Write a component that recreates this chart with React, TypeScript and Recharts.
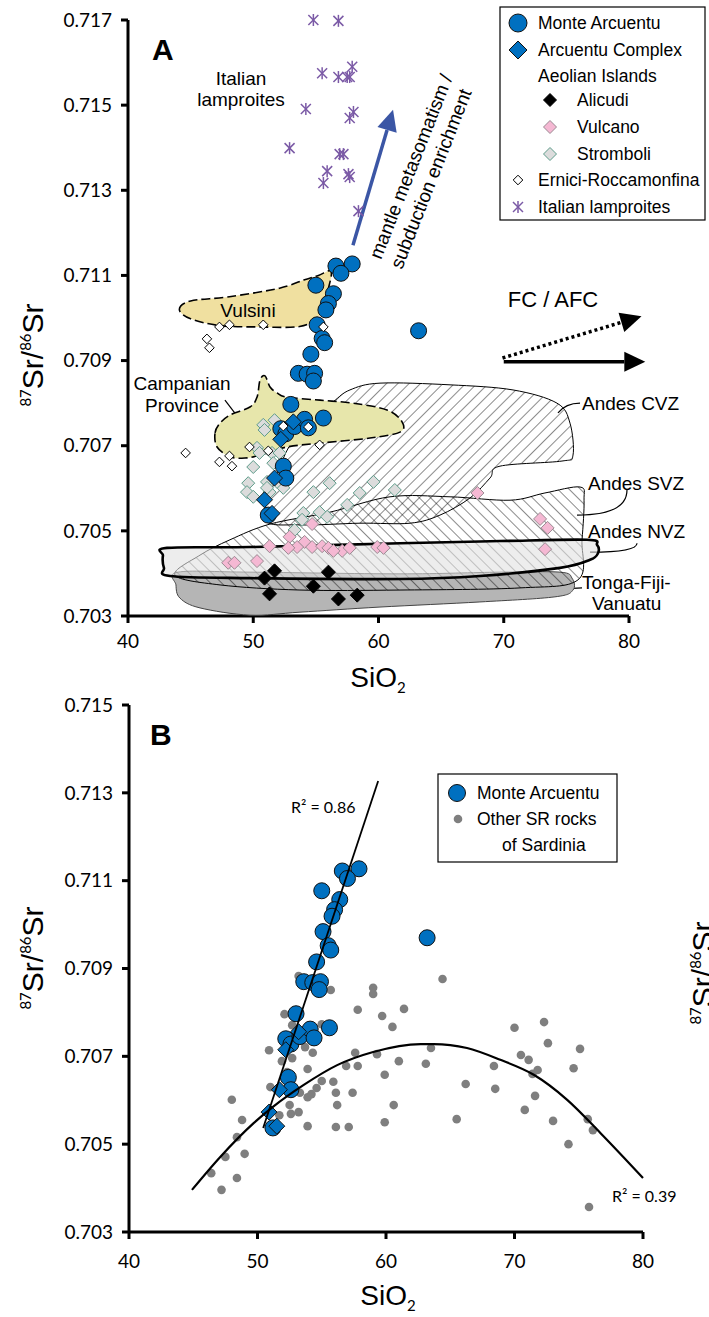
import React from "react";
import { ScatterChart, Scatter, XAxis, YAxis, ReferenceLine } from "recharts";

type Pt = { x: number; y: number };
const p = (x: number, y: number): Pt => ({ x, y });

// ---------- shared axis values ----------
const xTicks = [40, 50, 60, 70, 80];
const yTicksA = [0.703, 0.705, 0.707, 0.709, 0.711, 0.713, 0.715, 0.717];
const yTicksB = [0.703, 0.705, 0.707, 0.709, 0.711, 0.713, 0.715];

// ---------- samples (SiO2, 87Sr/86Sr) ----------
const monteArcuentu: Pt[] = [
  p(57.9, 0.71127), p(56.6, 0.71122), p(57.0, 0.71105), p(55.0, 0.71077),
  p(56.4, 0.71057), p(56.0, 0.71034), p(55.8, 0.71019), p(55.1, 0.70984),
  p(55.5, 0.70952), p(55.7, 0.70942), p(54.6, 0.70915), p(53.6, 0.7087),
  p(54.3, 0.70868), p(54.9, 0.7087), p(54.8, 0.70852), p(53.0, 0.70797),
  p(52.2, 0.7074), p(52.6, 0.70728), p(53.3, 0.70745), p(54.1, 0.70762),
  p(54.4, 0.70742), p(55.6, 0.70765), p(52.4, 0.70652), p(52.6, 0.70624),
  p(51.2, 0.70537), p(63.2, 0.7097),
];

const arcuentuComplex: Pt[] = [
  p(53.2, 0.70756), p(52.2, 0.70715), p(51.7, 0.70624), p(50.9, 0.70573), p(51.5, 0.70541),
];

const alicudi: Pt[] = [
  p(51.7, 0.70406), p(50.9, 0.70389), p(56.0, 0.70403), p(54.8, 0.7037),
  p(51.3, 0.70352), p(56.8, 0.7034), p(58.3, 0.70349),
];

const vulcano: Pt[] = [
  p(54.7, 0.70516), p(52.9, 0.70486), p(54.1, 0.70474), p(53.5, 0.70462),
  p(51.3, 0.70464), p(52.8, 0.7046), p(54.7, 0.70462), p(55.5, 0.70464),
  p(56.0, 0.7046), p(57.1, 0.70453), p(57.7, 0.7046), p(56.4, 0.70453),
  p(59.9, 0.70462), p(60.4, 0.7046), p(50.3, 0.70429), p(48.0, 0.70425),
  p(48.5, 0.70425), p(67.9, 0.70589), p(72.9, 0.70528), p(73.5, 0.70507),
  p(73.3, 0.70457),
];

const stromboli: Pt[] = [
  p(50.8, 0.70749), p(51.7, 0.7076), p(50.9, 0.70737), p(50.3, 0.70695),
  p(50.5, 0.70683), p(51.5, 0.70683), p(52.1, 0.70683), p(50.0, 0.7065),
  p(51.6, 0.70659), p(49.6, 0.70612), p(49.5, 0.70591), p(50.0, 0.7058),
  p(51.1, 0.70615), p(51.3, 0.70591), p(52.4, 0.70601), p(51.1, 0.70601),
  p(51.9, 0.70615), p(56.1, 0.70612), p(54.8, 0.70591), p(59.6, 0.70615),
  p(58.5, 0.70589), p(57.5, 0.70561), p(54.0, 0.70542), p(55.3, 0.70544),
  p(55.9, 0.70533), p(53.9, 0.70526), p(53.3, 0.70502), p(61.3, 0.70596),
];

const erniciRoccamonfina: Pt[] = [
  p(47.3, 0.70979), p(48.1, 0.70984), p(50.8, 0.70984), p(46.3, 0.70951),
  p(46.5, 0.7093), p(55.6, 0.70979), p(52.4, 0.70746), p(54.4, 0.70744),
  p(44.6, 0.70683), p(49.7, 0.70697), p(51.2, 0.70688), p(48.1, 0.70676),
  p(47.3, 0.70662), p(48.3, 0.70652), p(55.3, 0.70702),
];

const italianLamproites: Pt[] = [
  p(54.8, 0.717), p(56.8, 0.71698), p(57.9, 0.7159), p(55.5, 0.71575),
  p(56.8, 0.71566), p(57.5, 0.71566), p(57.7, 0.71566), p(54.2, 0.71491),
  p(58.0, 0.71484), p(57.7, 0.7147), p(52.9, 0.71399), p(56.9, 0.71385),
  p(57.2, 0.71385), p(55.9, 0.71345), p(57.6, 0.71338), p(57.7, 0.71331),
  p(55.6, 0.71317), p(58.4, 0.71251),
];

const sardiniaOther: Pt[] = [
  p(53.2, 0.70883), p(55.7, 0.70851), p(59.0, 0.70856), p(59.0, 0.70842),
  p(57.8, 0.70806), p(61.4, 0.70808), p(59.7, 0.70792), p(60.5, 0.70767),
  p(52.1, 0.70796), p(52.7, 0.70771), p(55.0, 0.70773), p(50.9, 0.70714),
  p(53.7, 0.70721), p(54.3, 0.70708), p(51.9, 0.70689), p(52.7, 0.70696),
  p(57.6, 0.70708), p(59.3, 0.70705), p(61.0, 0.70689), p(56.9, 0.70678),
  p(57.8, 0.70678), p(53.9, 0.70671), p(52.3, 0.70664), p(59.9, 0.70658),
  p(51.0, 0.7063), p(55.0, 0.70644), p(55.9, 0.70642), p(54.6, 0.70628),
  p(53.3, 0.70617), p(53.9, 0.70607), p(54.2, 0.70614), p(56.1, 0.70617),
  p(57.4, 0.70617), p(48.0, 0.70601), p(52.5, 0.70589), p(56.2, 0.70589),
  p(60.6, 0.70589), p(51.7, 0.70566), p(52.6, 0.70569), p(53.2, 0.70573),
  p(48.8, 0.70555), p(53.9, 0.70541), p(56.1, 0.70539), p(57.1, 0.70539),
  p(59.9, 0.7055), p(48.4, 0.70516), p(49.0, 0.70478), p(47.5, 0.70471),
  p(46.4, 0.70434), p(48.4, 0.70423), p(47.2, 0.70396), p(64.4, 0.70876),
  p(70.0, 0.70765), p(72.3, 0.70778), p(72.6, 0.7073), p(75.1, 0.70717),
  p(63.5, 0.70719), p(63.1, 0.70683), p(68.4, 0.70678), p(70.5, 0.70703),
  p(71.1, 0.70692), p(71.8, 0.70669), p(71.4, 0.7066), p(74.6, 0.70673),
  p(66.2, 0.70637), p(68.5, 0.70626), p(71.6, 0.7061), p(70.8, 0.70578),
  p(65.5, 0.70557), p(73.0, 0.70553), p(75.7, 0.70557), p(76.1, 0.70532),
  p(74.2, 0.705), p(75.8, 0.70357),
];

// ---------- outlined fields (panel A) ----------
const vulsiniField: Pt[] = [
  p(44.1, 0.7102), p(45.0, 0.7104), p(48.1, 0.7105), p(52.1, 0.7107),
  p(54.1, 0.7109), p(55.2, 0.711), p(56.2, 0.7111), p(56.0, 0.7107),
  p(55.5, 0.7103), p(55.1, 0.71), p(53.7, 0.7098), p(50.5, 0.70979),
  p(47.4, 0.70982), p(45.0, 0.70998),
];

const campanianField: Pt[] = [
  p(46.95, 0.7073), p(47.35, 0.70753), p(48.14, 0.70772), p(49.74, 0.70791),
  p(50.3, 0.70814), p(50.54, 0.70854), p(50.94, 0.70864), p(51.34, 0.70838),
  p(51.9, 0.70824), p(52.69, 0.70814), p(55.33, 0.70807), p(57.96, 0.708),
  p(60.68, 0.70784), p(61.88, 0.70756), p(61.72, 0.70732), p(59.32, 0.70718),
  p(55.33, 0.70706), p(52.69, 0.70697), p(50.54, 0.70678), p(49.34, 0.70671),
  p(48.14, 0.70674), p(47.11, 0.70697),
];

const andesCVZ: Pt[] = [
  p(50.94, 0.70526), p(51.74, 0.70619), p(52.93, 0.70702), p(54.53, 0.7076),
  p(56.37, 0.70803), p(57.72, 0.70831), p(60.12, 0.70847), p(65.71, 0.70843),
  p(70.74, 0.70831), p(74.25, 0.708), p(75.29, 0.70753), p(75.53, 0.70678),
  p(74.65, 0.70664), p(69.7, 0.70652), p(68.9, 0.70624), p(67.3, 0.70577),
  p(64.91, 0.70537), p(62.52, 0.70518), p(58.52, 0.70518), p(53.73, 0.70514),
];

const andesSVZ: Pt[] = [
  p(43.75, 0.70396), p(45.75, 0.70443), p(48.14, 0.70479), p(51.34, 0.70516),
  p(56.13, 0.70544), p(60.92, 0.7058), p(65.71, 0.7058), p(70.5, 0.70572),
  p(73.29, 0.70589), p(76.09, 0.70603), p(76.41, 0.70572), p(76.25, 0.70479),
  p(75.93, 0.70385), p(71.3, 0.70366), p(61.72, 0.70361), p(53.73, 0.70361),
  p(47.35, 0.70373),
];

const andesNVZ: Pt[] = [
  p(43.11, 0.7046), p(49.74, 0.70462), p(61.72, 0.70471), p(69.7, 0.70476),
  p(76.65, 0.70479), p(77.45, 0.70467), p(77.53, 0.70448), p(76.89, 0.70432),
  p(74.49, 0.70413), p(68.1, 0.70394), p(61.72, 0.70387), p(49.74, 0.70389),
  p(43.35, 0.70394), p(42.87, 0.70413), p(42.79, 0.70442),
];

const tongaFijiVanuatu: Pt[] = [
  p(43.99, 0.70403), p(49.74, 0.70403), p(61.72, 0.70399), p(69.7, 0.70403),
  p(74.49, 0.70403), p(75.45, 0.70389), p(75.53, 0.70361), p(74.09, 0.70345),
  p(68.1, 0.70333), p(60.12, 0.70321), p(53.73, 0.70309), p(49.74, 0.70302),
  p(45.75, 0.70319), p(44.15, 0.70342), p(43.83, 0.70373),
];

// ---------- arrows and leader lines (panel A) ----------
const mantleArrow: Pt[] = [p(57.96, 0.71171), p(61.16, 0.71489)];
const fcArrowDotted: Pt[] = [p(69.9, 0.70906), p(81.0, 0.71004)];
const fcArrowSolid: Pt[] = [p(70.0, 0.70897), p(81.3, 0.70897)];
const leaderLines: { seg: Pt[]; bend: "h" | "v" | "none" }[] = [
  { seg: [p(47.74, 0.70807), p(48.78, 0.70767)], bend: "none" },
  { seg: [p(74.33, 0.70777), p(76.09, 0.708)], bend: "v" },
  { seg: [p(75.85, 0.70537), p(79.84, 0.70596)], bend: "h" },
  { seg: [p(76.89, 0.7045), p(80.64, 0.70471)], bend: "h" },
  { seg: [p(72.89, 0.70361), p(76.25, 0.70366)], bend: "none" },
];

// ---------- fits (panel B) ----------
const linearFit: Pt[] = [p(50.44, 0.70537), p(59.39, 0.71327)];
const quadraticFit: Pt[] = [
  p(44.9, 0.70396), p(47.1, 0.70471), p(49.7, 0.70548), p(51.2, 0.70585),
  p(53.6, 0.70635), p(56.2, 0.7068), p(59.0, 0.7071), p(62.7, 0.70728),
  p(63.7, 0.70728), p(66.3, 0.70719), p(68.9, 0.70692), p(71.5, 0.70658),
  p(74.1, 0.70601), p(76.7, 0.70525), p(80.0, 0.70423),
];

// ---------- drawing helpers ----------
const BLUE = "#0070c0";
const SANS = "'Liberation Sans', Arial, sans-serif";
const NUM = "Lato, sans-serif";

const hidden = () => <g />;

const closedCurve = (pts: { x: number; y: number }[]) => {
  const n = pts.length;
  let d = `M${pts[0].x},${pts[0].y}`;
  for (let i = 0; i < n; i++) {
    const p0 = pts[(i - 1 + n) % n];
    const p1 = pts[i];
    const p2 = pts[(i + 1) % n];
    const p3 = pts[(i + 2) % n];
    const c1x = p1.x + (p2.x - p0.x) / 6;
    const c1y = p1.y + (p2.y - p0.y) / 6;
    const c2x = p2.x - (p3.x - p1.x) / 6;
    const c2y = p2.y - (p3.y - p1.y) / 6;
    d += ` C${c1x},${c1y} ${c2x},${c2y} ${p2.x},${p2.y}`;
  }
  return d + "Z";
};

const fieldPath = (style: any) => (lp: any) => <path d={closedCurve(lp.points)} {...style} />;

const circle = (r: number) => (s: any) => (
  <circle cx={s.cx} cy={s.cy} r={r} fill={BLUE} stroke="#111" strokeWidth={1} />
);

const diamond = (h: number, fill: string, stroke: string, sw = 1) => (s: any) => (
  <polygon
    points={`${s.cx},${s.cy - h} ${s.cx + h},${s.cy} ${s.cx},${s.cy + h} ${s.cx - h},${s.cy}`}
    fill={fill}
    stroke={stroke}
    strokeWidth={sw}
  />
);

const star = (s: any) => {
  const r = 5;
  return (
    <g stroke="#7b5aa6" strokeWidth={1.5}>
      <line x1={s.cx - r} y1={s.cy - r} x2={s.cx + r} y2={s.cy + r} />
      <line x1={s.cx - r} y1={s.cy + r} x2={s.cx + r} y2={s.cy - r} />
      <line x1={s.cx} y1={s.cy - r - 1} x2={s.cx} y2={s.cy + r + 1} />
    </g>
  );
};

const grayDot = (s: any) => <circle cx={s.cx} cy={s.cy} r={4.3} fill="#7f7f7f" />;

const arrow = (color: string, width: number, dash?: string) => (lp: any) => {
  const { x1, y1, x2, y2 } = lp;
  const a = Math.atan2(y2 - y1, x2 - x1);
  const L = 21;
  const W = 10;
  const bx = x2 - L * Math.cos(a);
  const by = y2 - L * Math.sin(a);
  const nx = -Math.sin(a) * W;
  const ny = Math.cos(a) * W;
  return (
    <g>
      <line x1={x1} y1={y1} x2={bx} y2={by} stroke={color} strokeWidth={width} strokeDasharray={dash} />
      <polygon points={`${x2},${y2} ${bx + nx},${by + ny} ${bx - nx},${by - ny}`} fill={color} />
    </g>
  );
};

const leader = (bend: "h" | "v" | "none") => (lp: any) => {
  const { x1, y1, x2, y2 } = lp;
  const d =
    bend === "h"
      ? `M${x1},${y1} Q${x2},${y1} ${x2},${y2}`
      : bend === "v"
      ? `M${x1},${y1} Q${x1 + (x2 - x1) * 0.35},${y2} ${x2},${y2}`
      : `M${x1},${y1} L${x2},${y2}`;
  return <path d={d} fill="none" stroke="#000" strokeWidth={1.2} />;
};

const axisStroke = { stroke: "#000", strokeWidth: 3 };
const tickFont = { fill: "#000", fontSize: 19, fontFamily: NUM };

const SrLabel = ({ x, y }: { x: number; y: number }) => (
  <text transform={`translate(${x},${y}) rotate(-90)`} textAnchor="middle" fontFamily={SANS} fontSize={30} fill="#000">
    <tspan fontSize={15} fontFamily={NUM} dy={-12}>87</tspan>
    <tspan dy={12}>Sr/</tspan>
    <tspan fontSize={15} fontFamily={NUM} dy={-12}>86</tspan>
    <tspan dy={12}>Sr</tspan>
  </text>
);

const SiO2 = ({ x, y }: { x: number; y: number }) => (
  <text x={x} y={y} textAnchor="middle" fontFamily={SANS} fontSize={28} fill="#000">
    SiO<tspan fontSize={15} fontFamily={NUM} dy={6}>2</tspan>
  </text>
);

function PanelA() {
  return (
    <ScatterChart width={709} height={690} margin={{ top: 20, right: 80, bottom: 0, left: 0 }}>
      <XAxis type="number" dataKey="x" domain={[40, 80]} ticks={xTicks} interval={0} height={74}
        axisLine={axisStroke} tickLine={axisStroke} tickSize={7} tickMargin={12} tick={tickFont} />
      <YAxis type="number" dataKey="y" domain={[0.703, 0.717]} ticks={yTicksA} interval={0} width={128}
        axisLine={axisStroke} tickLine={axisStroke} tickSize={7} tickMargin={9} tick={tickFont}
        tickFormatter={(v: number) => v.toFixed(3)} />

      <Scatter data={tongaFijiVanuatu} shape={hidden} lineType="joint" isAnimationActive={false}
        line={fieldPath({ fill: "#b5b5b5", stroke: "#444", strokeWidth: 1 })} />
      <Scatter data={andesSVZ} shape={hidden} lineType="joint" isAnimationActive={false}
        line={fieldPath({ fill: "url(#hatchBack)", stroke: "#000", strokeWidth: 1 })} />
      <Scatter data={andesCVZ} shape={hidden} lineType="joint" isAnimationActive={false}
        line={fieldPath({ fill: "url(#hatchFwd)", stroke: "#000", strokeWidth: 1 })} />
      <Scatter data={andesNVZ} shape={hidden} lineType="joint" isAnimationActive={false}
        line={fieldPath({ fill: "rgba(225,225,225,0.6)", stroke: "#000", strokeWidth: 2.6 })} />
      <Scatter data={vulsiniField} shape={hidden} lineType="joint" isAnimationActive={false}
        line={fieldPath({ fill: "#f0e0a0", stroke: "#000", strokeWidth: 1.6, strokeDasharray: "9 4" })} />
      <Scatter data={campanianField} shape={hidden} lineType="joint" isAnimationActive={false}
        line={fieldPath({ fill: "#e7e6ab", stroke: "#000", strokeWidth: 1.6, strokeDasharray: "9 4" })} />

      <ReferenceLine segment={mantleArrow} ifOverflow="visible" shape={arrow("#3b56a5", 3.5)} />
      <ReferenceLine segment={fcArrowDotted} ifOverflow="visible" shape={arrow("#000", 3.5, "3 3")} />
      <ReferenceLine segment={fcArrowSolid} ifOverflow="visible" shape={arrow("#000", 3.5)} />
      {leaderLines.map((l, i) => (
        <ReferenceLine key={i} segment={l.seg} ifOverflow="visible" shape={leader(l.bend)} />
      ))}

      <Scatter data={stromboli} shape={diamond(6.5, "#dcdcdc", "#5e9c8a")} isAnimationActive={false} />
      <Scatter data={vulcano} shape={diamond(6.5, "#f5b8d3", "#9a8a92")} isAnimationActive={false} />
      <Scatter data={alicudi} shape={diamond(7, "#000", "#000")} isAnimationActive={false} />
      <Scatter data={italianLamproites} shape={star} isAnimationActive={false} />
      <Scatter data={monteArcuentu} shape={circle(8)} isAnimationActive={false} />
      <Scatter data={arcuentuComplex} shape={diamond(8, BLUE, "#111")} isAnimationActive={false} />
      <Scatter data={erniciRoccamonfina} shape={diamond(4.8, "#fff", "#000")} isAnimationActive={false} />
    </ScatterChart>
  );
}

function PanelB() {
  return (
    <ScatterChart width={709} height={627} margin={{ top: 15, right: 66, bottom: 0, left: 0 }}>
      <XAxis type="number" dataKey="x" domain={[40, 80]} ticks={xTicks} interval={0} height={85}
        axisLine={axisStroke} tickLine={axisStroke} tickSize={7} tickMargin={16} tick={tickFont} />
      <YAxis type="number" dataKey="y" domain={[0.703, 0.715]} ticks={yTicksB} interval={0} width={129}
        axisLine={axisStroke} tickLine={axisStroke} tickSize={7} tickMargin={9} tick={tickFont}
        tickFormatter={(v: number) => v.toFixed(3)} />

      <Scatter data={sardiniaOther} shape={grayDot} isAnimationActive={false} />
      <Scatter data={monteArcuentu} shape={circle(8)} isAnimationActive={false} />
      <Scatter data={arcuentuComplex} shape={diamond(8, BLUE, "#111")} isAnimationActive={false} />
      <Scatter data={quadraticFit} shape={hidden} lineType="joint" lineJointType="monotoneX" isAnimationActive={false}
        line={{ stroke: "#000", strokeWidth: 2.2 }} />
      <Scatter data={linearFit} shape={hidden} lineType="joint" isAnimationActive={false}
        line={{ stroke: "#000", strokeWidth: 1.8 }} />
    </ScatterChart>
  );
}

const legendA = [
  { label: "Monte Arcuentu", indent: false },
  { label: "Arcuentu Complex", indent: false },
  { label: "Aeolian Islands", indent: false },
  { label: "Alicudi", indent: true },
  { label: "Vulcano", indent: true },
  { label: "Stromboli", indent: true },
  { label: "Ernici-Roccamonfina", indent: false },
  { label: "Italian lamproites", indent: false },
];

function Overlay() {
  const rowY = [23, 50, 76, 100, 127, 154, 180, 207];
  const markers = [
    circle(9)({ cx: 518, cy: rowY[0] }),
    diamond(9, BLUE, "#111")({ cx: 518, cy: rowY[1] }),
    null,
    diamond(6.5, "#000", "#000")({ cx: 550, cy: rowY[3] }),
    diamond(6.5, "#f5b8d3", "#9a8a92")({ cx: 550, cy: rowY[4] }),
    diamond(6.5, "#dcdcdc", "#5e9c8a")({ cx: 550, cy: rowY[5] }),
    diamond(4.8, "#fff", "#000")({ cx: 518, cy: rowY[6] }),
    star({ cx: 518, cy: rowY[7] }),
  ];
  return (
    <svg width={709} height={1317} style={{ position: "absolute", left: 0, top: 0, pointerEvents: "none" }}>
      {/* panel A labels */}
      <text x={152} y={60} fontFamily={SANS} fontWeight="bold" fontSize={30}>A</text>
      <SrLabel x={43} y={355} />
      <SiO2 x={378} y={687} />
      <g fontFamily={SANS} fontSize={19} fill="#000">
        <text x={241} y={85} textAnchor="middle">Italian</text>
        <text x={241} y={106} textAnchor="middle">lamproites</text>
        <text x={248} y={317} textAnchor="middle">Vulsini</text>
        <text x={182} y={390} textAnchor="middle">Campanian</text>
        <text x={182} y={412} textAnchor="middle">Province</text>
        <text transform="translate(417,169) rotate(-68.5)" textAnchor="middle">mantle metasomatism /</text>
        <text transform="translate(437,181) rotate(-68.5)" textAnchor="middle">subduction enrichment</text>
        <text x={553} y={307} textAnchor="middle" fontSize={22}>FC / AFC</text>
        <text x={582} y={410}>Andes CVZ</text>
        <text x={588} y={490}>Andes SVZ</text>
        <text x={588} y={538}>Andes NVZ</text>
        <text x={582} y={589}>Tonga-Fiji-</text>
        <text x={592} y={610}>Vanuatu</text>
      </g>
      {/* legend A */}
      <rect x={500} y={7} width={205} height={213} fill="#fff" stroke="#000" strokeWidth={1.2} />
      {legendA.map((item, i) => (
        <g key={item.label}>
          {markers[i]}
          <text x={item.indent ? 577 : 538} y={rowY[i] + 6} fontFamily={SANS} fontSize={17.5}>{item.label}</text>
        </g>
      ))}

      {/* panel B labels */}
      <text x={150} y={745} fontFamily={SANS} fontWeight="bold" fontSize={30}>B</text>
      <SrLabel x={43} y={958} />
      {/* neighbouring panel's axis title, cut by the page edge as in the source figure */}
      <SrLabel x={713} y={973} />
      <SiO2 x={388} y={1305} />
      <text x={291} y={813} fontFamily={NUM} fontSize={16}>R² = 0.86</text>
      <text x={612} y={1202} fontFamily={NUM} fontSize={16}>R² = 0.39</text>
      <rect x={438} y={774} width={179} height={88} fill="#fff" stroke="#000" strokeWidth={1.2} />
      {circle(8.5)({ cx: 457, cy: 793 })}
      {grayDot({ cx: 458, cy: 819 })}
      <g fontFamily={SANS} fontSize={17.5}>
        <text x={477} y={799}>Monte Arcuentu</text>
        <text x={477} y={825}>Other SR rocks</text>
        <text x={502} y={851}>of Sardinia</text>
      </g>
    </svg>
  );
}

export default function App() {
  return (
    <div style={{ position: "absolute", left: 0, top: 0, width: 709, height: 1317, overflow: "hidden", background: "#fff" }}>
      <svg width={0} height={0} style={{ position: "absolute" }}>
        <defs>
          <pattern id="hatchFwd" patternUnits="userSpaceOnUse" width={8} height={8} patternTransform="rotate(45)">
            <line x1={0} y1={0} x2={0} y2={8} stroke="#000" strokeWidth={0.9} />
          </pattern>
          <pattern id="hatchBack" patternUnits="userSpaceOnUse" width={8} height={8} patternTransform="rotate(-45)">
            <line x1={0} y1={0} x2={0} y2={8} stroke="#000" strokeWidth={0.9} />
          </pattern>
        </defs>
      </svg>
      <div style={{ position: "absolute", left: 0, top: 0 }}>
        <PanelA />
      </div>
      <div style={{ position: "absolute", left: 0, top: 690 }}>
        <PanelB />
      </div>
      <Overlay />
    </div>
  );
}
